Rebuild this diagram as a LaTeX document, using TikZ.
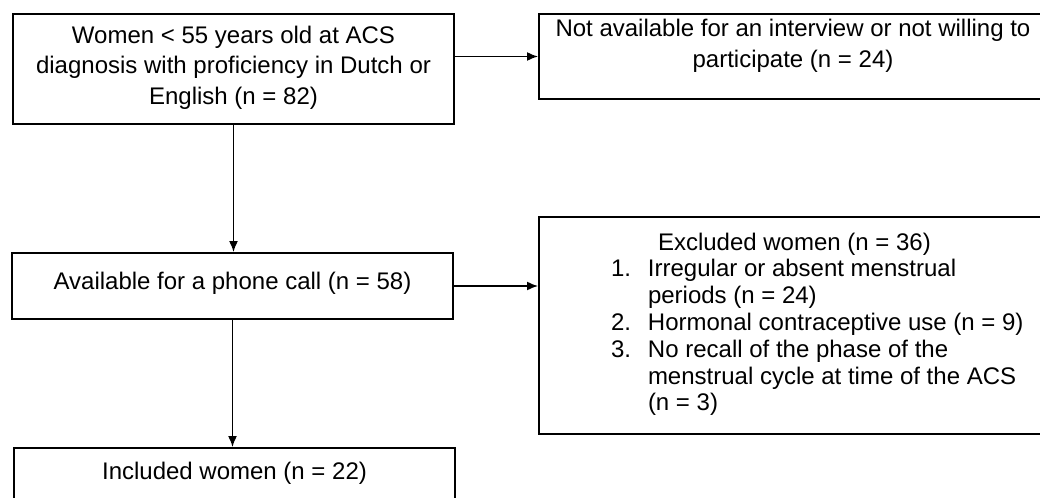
\documentclass[tikz,border=0pt]{standalone}
\usepackage{fontspec}
\setmainfont{Liberation Sans}
\usetikzlibrary{arrows.meta}

\begin{document}
\begin{tikzpicture}[x=0.5pt, y=-0.5pt]
\tikzstyle{box}=[draw, line width=1pt, inner sep=0pt, anchor=north west, minimum width=220.5pt]
\tikzstyle{arr}=[line width=0.75pt, -{Latex[length=5.5pt,width=4.5pt]}]
\useasboundingbox (0,0) rectangle (1040,498);
\fill[white] (0,0) rectangle (1040,498);
\clip (0,0) rectangle (1040,498);
\node[box, text height=14.5pt, text depth=40.5pt, font=\fontsize{12}{15.3}\selectfont] (women) at (12,13)
  {\begin{tabular}[t]{@{}c@{}}Women < 55 years old at ACS\\diagnosis with proficiency in Dutch or\\English (n = 82)\end{tabular}};
\node[box, minimum width=254pt, text height=11pt, text depth=31.5pt, font=\fontsize{12}{15.8}\selectfont] (notavail) at (538,13)
  {\begin{tabular}[t]{@{}c@{}}Not available for an interview or not willing to\\participate (n = 24)\end{tabular}};
\node[box, text height=18.25pt, text depth=14.75pt, font=\fontsize{12}{15.3}\selectfont] (phone) at (11,252)
  {Available for a phone call (n = 58)};
\node[box, minimum width=254pt, text height=16.5pt, text depth=92pt, font=\fontsize{12}{13.4}\selectfont] (excl) at (538,216)
  {\makebox[254pt][l]{\hspace{36pt}\begin{tabular}[t]{@{}l@{}l@{}}
  \multicolumn{2}{@{}l}{\hspace{23.5pt}Excluded women (n = 36)}\\
  \makebox[18.5pt][l]{1.} & Irregular or absent menstrual\\
  & periods (n = 24)\\
  \makebox[18.5pt][l]{2.} & Hormonal contraceptive use (n = 9)\\
  \makebox[18.5pt][l]{3.} & No recall of the phase of the\\
  & menstrual cycle at time of the ACS\\
  & (n = 3)
  \end{tabular}}};
\node[box, text height=15.5pt, text depth=20pt, font=\fontsize{12}{15.3}\selectfont] (incl) at (13,447)
  {Included women (n = 22)};
% connectors
\draw[arr] (women.east |- notavail.west) -- (notavail.west);
\draw[arr] (women.south) -- (women.south |- phone.north);
\draw[arr] (phone.east) -- (phone.east -| excl.west);
\draw[arr] (phone.south) -- (phone.south |- incl.north);
\end{tikzpicture}
\end{document}
